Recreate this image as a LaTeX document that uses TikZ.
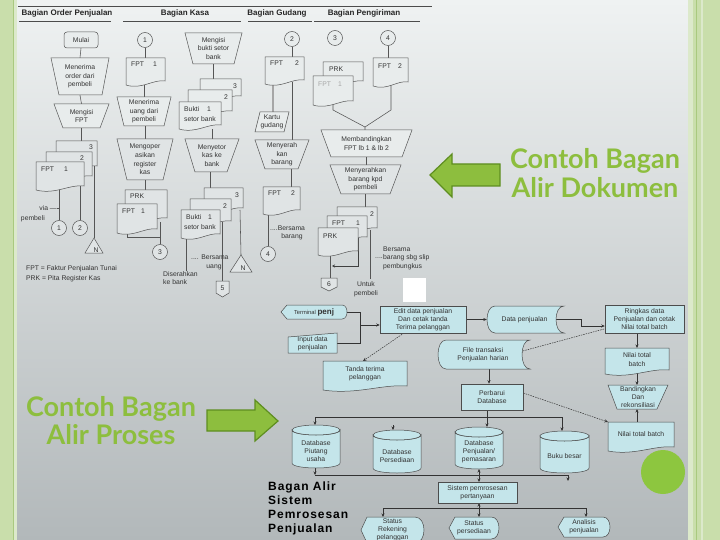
\documentclass[tikz,border=0pt]{standalone}
\usepackage{fontspec}
\setmainfont{Liberation Sans}
\newfontfamily\grnfont{Lato}
\newfontfamily\ttlfont{Liberation Sans}[LetterSpace=8]
\usetikzlibrary{arrows.meta}
\pgfdeclarelayer{bgl}
\pgfdeclarelayer{lines}
\pgfsetlayers{bgl,lines,main}
\definecolor{bgtop}{HTML}{EFF2F2}
\definecolor{bgmid}{HTML}{D8DDDE}
\definecolor{bgbot}{HTML}{B2B8BA}
\definecolor{stripg}{HTML}{C9DEAB}
\definecolor{stripl}{HTML}{DCE9CB}
\definecolor{stripd}{HTML}{A9C97F}
\definecolor{grn}{HTML}{8DBE3E}
\definecolor{grnd}{HTML}{5E8E20}
\definecolor{ball}{HTML}{8DC63F}
\definecolor{cy}{HTML}{C4E5EA}
\definecolor{lnc}{HTML}{555555}
\definecolor{txc}{HTML}{333333}
\definecolor{pA}{HTML}{E8ECEC}
\definecolor{pB}{HTML}{E0E4E5}
\newcommand\dfs{\fontsize{6.8}{8.6}\selectfont}
\newcommand\dfsl{\fontsize{6.8}{8.2}\selectfont}
\newcommand\Area[7][]{\node[area,#1,minimum width={(#5-#3)*1pt},minimum height={(#6-#4)*1pt}] (#2) at ({(#3+#5)/2},{(#4+#6)/2}) {#7};}
\newcommand\TrapP[7][]{\filldraw[#1] (#2,#4) -- (#3,#4) -- (#6,#7) -- (#5,#7) -- cycle;}
\newcommand\DocP[5][]{\filldraw[#1] (#2,#3) -- (#4,#3) -- (#4,{#5-4}) .. controls ({#2+0.7*(#4-#2)},{#5-6}) and ({#2+0.4*(#4-#2)},{#5+5}) .. (#2,#5) -- cycle;}
\newcommand\OffP[5][]{\filldraw[#1] (#2,#3) -- (#4,#3) -- (#4,{#5-4}) -- ({(#2+#4)/2},#5) -- (#2,{#5-4}) -- cycle;}
\newcommand\StoreP[5][]{\filldraw[#1] ({#2+8},#3) -- (#4,#3) .. controls ({#4-10.67},#3) and ({#4-10.67},#5) .. (#4,#5) -- ({#2+8},#5) .. controls ({#2-2.67},#5) and ({#2-2.67},#3) .. cycle;}
\newcommand\DispP[5][]{\filldraw[#1] (#2,{(#3+#5)/2}) -- ({#2+6},#3) -- ({#4-0.35*(#5-#3)},#3) .. controls ({#4+0.1167*(#5-#3)},#3) and ({#4+0.1167*(#5-#3)},#5) .. ({#4-0.35*(#5-#3)},#5) -- ({#2+6},#5) -- cycle;}
\newcommand\CylP[5][]{\filldraw[#1] (#2,{#3+5}) -- (#2,{#5-5}) .. controls (#2,{#5+1.67}) and (#4,{#5+1.67}) .. (#4,{#5-5}) -- (#4,{#3+5}) .. controls (#4,{#3+11.67}) and (#2,{#3+11.67}) .. cycle;
 \filldraw[#1] ({(#2+#4)/2},{#3+5}) ellipse [x radius={(#4-#2)/2*1pt}, y radius=5pt];}
\begin{document}
\begin{tikzpicture}[x=1pt,y=-1pt,
 area/.style={inner sep=0pt, align=center, font=\dfs, text=txc},
 lab/.style={inner sep=0pt, align=center, font=\dfs, text=txc},
 tl/.style={draw=lnc, line width=0.5pt, fill=pA},
 tlb/.style={draw=lnc, line width=0.5pt, fill=pB},
 cn/.style={draw=lnc, line width=0.55pt},
 cng/.style={draw=black!35, line width=1.3pt},
 circ/.style={circle, draw=lnc, line width=0.5pt, fill=pA, minimum size=15pt, inner sep=0pt, font=\dfs, text=txc},
 htxt/.style={inner sep=0pt, font=\fontsize{8}{9}\selectfont\bfseries, text=black!85},
 hl/.style={draw=black!70, line width=0.9pt},
 ps/.style={draw=black!70, line width=0.5pt, fill=cy},
 pbox/.style={rectangle, draw=black!70, line width=0.5pt, fill=cy, inner sep=0pt, align=center, font=\dfsl, text=txc},
 ptx/.style={inner sep=0pt, align=center, font=\dfsl, text=txc},
 pl/.style={draw=black!80, line width=0.5pt},
 pa/.style={pl, -{Stealth[length=3.5pt,width=3pt]}},
 pab/.style={pl, {Stealth[length=3.5pt,width=3pt]}-{Stealth[length=3.5pt,width=3pt]}},
 pd/.style={pa, dash pattern=on 1.5pt off 1pt},
 gtxt/.style={inner sep=0pt, font=\grnfont\bfseries\fontsize{27}{29}\selectfont, text=grn},
 ttl/.style={inner sep=0pt, font=\ttlfont\bfseries\fontsize{12}{13}\selectfont, text=black}
 ]
\useasboundingbox (0,0) rectangle (720,540);
% ================= background
\begin{pgfonlayer}{bgl}
\shade[top color=bgtop, middle color=bgmid, bottom color=bgbot] (16,0) rectangle (688,540);
\fill[stripg] (0,0) rectangle (14,540);
\fill[stripl] (14,0) rectangle (17,540);
\draw[stripd, line width=1pt] (13.5,0) -- (13.5,540);
\fill[stripl] (688,0) rectangle (693,540);
\fill[stripg] (693,0) rectangle (720,540);
\draw[stripd, line width=1pt] (696,0) -- (696,540);
\draw[stripl, line width=1.5pt] (702,0) -- (702,540);
\end{pgfonlayer}
% ================= header
\draw[hl] (18,6) -- (432,6);
\node[htxt] (hOrd) at (67,13.5) {Bagian Order Penjualan};
\node[htxt] (hKas) at (185,13.5) {Bagian Kasa};
\node[htxt] (hGud) at (277,13.5) {Bagian Gudang};
\node[htxt] (hKir) at (364,13.5) {Bagian Pengiriman};
\draw[hl] (19,21) -- (111,21);
\draw[hl] (123,21) -- (241,21);
\draw[hl] (248,21) -- (312,21);
\draw[hl] (314,21) -- (420,21);
% ================= Order column
\node[rectangle, rounded corners=3pt, draw=lnc, line width=0.5pt, fill=pA, minimum width=34pt, minimum height=16pt, inner sep=0pt, font=\dfs, text=txc] (mulai) at (81,40) {Mulai};
\TrapP[tl]{51}{109}{58}{59}{102}{95}
\Area{t1}{51}{58}{109}{95}{Menerima\\order dari\\pembeli}
\TrapP[tl]{54}{109}{104}{63}{100}{128}
\Area{t2}{54}{104}{109}{128}{Mengisi\\FPT}
\DocP[tlb]{56}{141}{97}{170}
\Area{od3}{56}{141}{97}{170}{}
\node[lab] (od3n) at (91,147) {3};
\DocP[tlb]{46}{152}{92}{180}
\Area{od2}{46}{152}{92}{180}{}
\node[lab] (od2n) at (82,158) {2};
\DocP[tlb]{36}{162}{84}{190}
\Area{od1}{36}{162}{84}{190}{}
\node[lab,anchor=west] (od1a) at (41,169) {FPT};
\node[lab] (od1b) at (66,169) {1};
\node[circ,fill=pB] (oc1) at (59,228) {1};
\node[circ,fill=pB] (oc2) at (80,228) {2};
\filldraw[tlb] (94,238) -- (103,253) -- (85,253) -- cycle;
\coordinate (otri) at (94,238);
\node[lab] (otriN) at (96,250) {N};
\node[lab,anchor=east] (ovia) at (57,208) {via ---};
\node[lab,anchor=east] (opemb) at (45,219) {pembeli};
\node[lab,anchor=west] (leg1) at (26,269) {FPT = Faktur Penjualan Tunai};
\node[lab,anchor=west] (leg2) at (26,279) {PRK = Pita Register Kas};
% ================= Kasa left
\node[circ] (kc1) at (145,40) {1};
\DocP[tl]{126}{58}{165}{85}
\Area{kd1}{126}{58}{165}{85}{}
\node[lab,anchor=west] (kd1a) at (131,64) {FPT};
\node[lab] (kd1b) at (155,64) {1};
\TrapP[tl]{117}{171}{97}{124}{164}{126}
\Area{t3}{117}{97}{171}{126}{Menerima\\uang dari\\pembeli}
\TrapP[tlb]{117}{173}{139}{127}{163}{180}
\Area{t4}{117}{139}{173}{180}{Mengoper\\asikan\\register\\kas}
\DocP[tlb]{125}{190}{167}{222}
\Area{kprk}{125}{190}{167}{222}{}
\node[lab,anchor=west] (kprka) at (130,196) {PRK};
\DocP[tlb]{117}{204}{157}{233}
\Area{kfpt}{117}{204}{157}{233}{}
\node[lab,anchor=west] (kfpta) at (122,211) {FPT};
\node[lab] (kfptb) at (143,211) {1};
\node[circ,fill=pB] (kc3) at (160,252) {3};
% ================= Kasa right
\TrapP[tl]{185}{242}{33}{193}{234}{64}
\Area{t5}{185}{33}{242}{64}{Mengisi\\bukti setor\\bank}
\DocP[tl]{200}{79}{241}{100}
\Area{ks13}{200}{79}{241}{100}{}
\node[lab] (ks13n) at (235,86) {3};
\DocP[tl]{188}{90}{232}{115}
\Area{ks12}{188}{90}{232}{115}{}
\node[lab] (ks12n) at (226,97) {2};
\DocP[tl]{179}{102}{221}{129}
\Area{ks11}{179}{102}{221}{129}{}
\node[lab,anchor=west] (ks11a) at (184,109) {Bukti};
\node[lab] (ks11b) at (209,109) {1};
\node[lab] (ks11c) at (200,119) {setor bank};
\TrapP[tlb]{185}{239}{139}{195}{227}{172}
\Area{t6}{185}{139}{239}{172}{Menyetor\\kas ke\\bank}
\DocP[tlb]{204}{188}{243}{212}
\Area{ks23}{204}{188}{243}{212}{}
\node[lab] (ks23n) at (237,195) {3};
\DocP[tlb]{190}{199}{231}{225}
\Area{ks22}{190}{199}{231}{225}{}
\node[lab] (ks22n) at (225,206) {2};
\DocP[tlb]{181}{210}{220}{238}
\Area{ks21}{181}{210}{220}{238}{}
\node[lab,anchor=west] (ks21a) at (186,217) {Bukti};
\node[lab] (ks21b) at (210,217) {1};
\node[lab] (ks21c) at (200,227) {setor bank};
\OffP[tlb]{216}{281}{229}{297}
\node[lab] (off5) at (222.5,288) {5};
\filldraw[tlb] (241,255) -- (252,272) -- (230,272) -- cycle;
\coordinate (ktri) at (241,255);
\node[lab] (ktriN) at (243,268) {N};
\node[lab,anchor=west] (kbers) at (191,257) {.... Bersama};
\node[lab] (kuang) at (214,267) {uang};
\node[lab,anchor=north west,align=left] (kdis) at (163,271) {Diserahkan\\ke bank};
% ================= Gudang
\node[circ] (gc2) at (292,39) {2};
\DocP[tl]{265}{57}{304}{84}
\Area{gd1}{265}{57}{304}{84}{}
\node[lab,anchor=west] (gd1a) at (270,63) {FPT};
\node[lab] (gd1b) at (297,63) {2};
\filldraw[tl] (260,112) -- (289,112) -- (284,132) -- (255,132) -- cycle;
\Area{gkart}{255}{112}{289}{132}{Kartu\\gudang}
\TrapP[tlb]{255}{309}{140}{265}{298}{169}
\Area{t7}{255}{140}{309}{169}{Menyerah\\kan\\barang}
\DocP[tlb]{263}{187}{300}{214}
\Area{gd2}{263}{187}{300}{214}{}
\node[lab,anchor=west] (gd2a) at (268,193) {FPT};
\node[lab] (gd2b) at (293,193) {2};
\node[circ,fill=pB] (gc4) at (268,254) {4};
\node[lab,anchor=west] (gbers) at (270,228) {....Bersama};
\node[lab] (gbar) at (292,237) {barang};
% ================= Pengiriman
\node[circ] (pc3) at (335,38) {3};
\node[circ] (pc4) at (388,38) {4};
\DocP[tl]{323}{62}{363}{85}
\Area{pprk}{323}{62}{363}{85}{}
\node[lab,anchor=west] (pprka) at (329,69) {PRK};
\DocP[tl]{313}{76}{353}{105}
\Area{pfp1}{313}{76}{353}{105}{}
\node[lab,anchor=west,text=black!35] (pfp1a) at (318,84) {FPT};
\node[lab,text=black!35] (pfp1b) at (340,84) {1};
\DocP[tl]{373}{58}{408}{86}
\Area{pfp2}{373}{58}{408}{86}{}
\node[lab,anchor=west] (pfp2a) at (378,66) {FPT};
\node[lab] (pfp2b) at (400,66) {2};
\TrapP[tl]{321}{412}{130}{331}{402}{157}
\Area{t8}{321}{130}{412}{157}{Membandingkan\\FPT lb 1 \& lb 2}
\TrapP[tlb]{330}{401}{165}{341}{390}{194}
\Area{t9}{330}{165}{401}{194}{Menyerahkan\\barang kpd\\pembeli}
\DocP[tlb]{337}{207}{377}{232}
\Area{ps2}{337}{207}{377}{232}{}
\node[lab] (ps2n) at (372,214) {2};
\DocP[tlb]{327}{216}{367}{241}
\Area{ps1}{327}{216}{367}{241}{}
\node[lab,anchor=west] (ps1a) at (332,223) {FPT};
\node[lab] (ps1b) at (358,223) {1};
\DocP[tlb]{318}{228}{358}{255}
\Area{ps0}{318}{228}{358}{255}{}
\node[lab,anchor=west] (ps0a) at (323,236) {PRK};
\OffP[tlb]{321}{278}{337}{291}
\node[lab] (off6) at (329,284) {6};
\node[lab] (puntuk) at (366,289) {Untuk\\pembeli};
\node[lab,anchor=west,align=left] (pbers) at (383,258) {Bersama\\barang sbg slip\\pembungkus};
\node[lab,anchor=east] (pdots) at (383,258) {....};
% ================= green labels
\filldraw[fill=grn, draw=grnd, line width=1.2pt] (430,175) -- (452,154) -- (452,164) -- (500,164) -- (500,186) -- (452,186) -- (452,197) -- cycle;
\node[gtxt,anchor=base] (tdok1) at (595,169) {Contoh Bagan};
\node[gtxt,anchor=base] (tdok2) at (595,197) {Alir Dokumen};
\filldraw[fill=grn, draw=grnd, line width=1.2pt] (278,421) -- (255,400) -- (255,410) -- (207,410) -- (207,431) -- (255,431) -- (255,441) -- cycle;
\node[gtxt,anchor=base] (tpro1) at (111,416) {Contoh Bagan};
\node[gtxt,anchor=base] (tpro2) at (111,444) {Alir Proses};
\fill[white] (403,278) rectangle (426,302);
\fill[ball] (663,472) circle [radius=22pt];
% ================= process flowchart
\DispP[ps]{281}{305}{347}{319}
\Area{lterm}{281}{305}{347}{319}{{\fontsize{5.8}{6}\selectfont Terminal }{\fontsize{8}{8}\selectfont\bfseries penj}}
\filldraw[ps] (288,337) -- (337,333) -- (337,353) -- (288,353) -- cycle;
\Area[font=\dfsl]{linp}{288}{335}{337}{353}{Input data\\penjualan}
\node[pbox, minimum width=86pt, minimum height=27pt] (edit) at (423,319.5) {Edit data penjualan\\Dan cetak tanda\\Terima pelanggan};
\StoreP[ps]{487}{306}{564}{333}
\Area[font=\dfsl]{ldata}{487}{306}{562}{333}{Data penjualan}
\node[pbox, minimum width=79pt, minimum height=28pt] (ring) at (644.5,319) {Ringkas data\\Penjualan dan cetak\\Nilai total batch};
\StoreP[ps]{438}{340}{530}{369}
\Area[font=\dfsl]{lfile}{438}{340}{528}{369}{File transaksi\\Penjualan harian};
\DocP[ps]{323}{361}{407}{390}
\Area[font=\dfsl]{ltanda}{323}{361}{407}{386}{Tanda terima\\pelanggan}
\node[pbox, minimum width=62pt, minimum height=26pt] (perb) at (492,397) {Perbarui\\Database};
\DocP[ps]{605}{348}{669}{374}
\Area[font=\dfsl]{lnil1}{605}{348}{669}{371}{Nilai total\\batch}
\TrapP[ps]{608}{668}{385}{617}{657}{409}
\Area[font=\dfsl]{lband}{608}{385}{668}{409}{Bandingkan\\Dan\\rekonsiliasi}
\DocP[ps]{608}{422}{674}{451}
\Area[font=\dfsl]{lnil2}{608}{422}{674}{447}{Nilai total batch}
\CylP[ps]{292}{425}{340}{468}
\Area[font=\dfsl]{dbpiu}{292}{436}{340}{466}{Database\\Piutang\\usaha}
\CylP[ps]{373}{430}{421}{473}
\Area[font=\dfsl]{dbper}{373}{441}{421}{471}{Database\\Persediaan}
\CylP[ps]{455}{427}{503}{469}
\Area[font=\dfsl]{dbpen}{455}{437}{503}{467}{Database\\Penjualan/\\pemasaran}
\CylP[ps]{540}{431}{589}{473}
\Area[font=\dfsl]{dbbuk}{540}{441}{589}{471}{Buku besar}
\node[pbox, minimum width=79pt, minimum height=21pt] (sist) at (477.5,492.5) {Sistem pemrosesan\\pertanyaan};
\DispP[ps]{361}{517}{424}{543}
\Area[font=\dfsl]{srek}{361}{517}{424}{543}{Status\\Rekening\\pelanggan}
\DispP[ps]{449}{517}{499}{539}
\Area[font=\dfsl]{sper}{449}{517}{499}{539}{Status\\persediaan}
\DispP[ps]{558}{517}{610}{537}
\Area[font=\dfsl]{sana}{558}{517}{610}{537}{Analisis\\penjualan}
% title
\node[ttl,anchor=base west] (bt1) at (268,490) {Bagan Alir};
\node[ttl,anchor=base west] (bt2) at (268,504) {Sistem};
\node[ttl,anchor=base west] (bt3) at (268,518) {Pemrosesan};
\node[ttl,anchor=base west] (bt4) at (268,532) {Penjualan};
% ================= connectors
\begin{pgfonlayer}{lines}
\draw[cn] (mulai.south) -- (t1.north);
\draw[cn] (t1.south) -- (t2.north);
\draw[cn] (t2.south) -- (t2.south |- od3.north);
\draw[cn] (59,186) -- (oc1.north);
\draw[cn] (80,178) -- (oc2.north);
\draw[cn] (94,166) -- (otri);
\draw[cn, densely dashed] (ovia.east) -- (59,208);
\draw[cn] (kc1.south) -- (kc1.south |- kd1.north);
\draw[cn] (t3.north) -- (t3.north |- kd1.south);
\draw[cn] (t4.north) -- (t4.north |- t3.south);
\draw[cn] (t4.south) -- (t4.south |- kprk.north);
\draw[cn] (kc3.north) -- (kc3.north |- kprk.south);
\draw[cn] (127,230) -- (127,237) -- (kc3.north |- 0,237);
\draw[cn] (t5.south) -- (t5.south |- ks13.north);
\draw[cn] (t6.north) -- (t6.north |- ks11.south);
\draw[cn] (210,172) -- (210,188);
\draw[cn] (186,236) -- (186,271);
\draw[cn] (222.5,222) -- (222.5,281);
\draw[cn] (240,210) -- (ktri);
\draw[cn] (gc2.south) -- (gc2.south |- gd1.north);
\draw[cng] (273,82) -- (273,112);
\draw[cn] (292,82) -- (292,140);
\draw[cn] (291,169) -- (291,187);
\draw[cn] (268,211) -- (gc4.north);
\draw[cn] (pc4.south) -- (pc4.south |- pfp2.north);
\draw[cn] (333,102) -- (333,110) -- (365,127) -- (365,130);
\draw[cn] (391,83) -- (391,110) -- (365,127);
\draw[cn] (t8.south) -- (t8.south |- t9.north);
\draw[cn] (365,194) -- (365,207);
\draw[cn] (330,252) -- (330,278);
\draw[line width=1pt, draw=black!75, -{Stealth[length=3pt,width=3pt]}] (358,238) -- (358,266) -- (332,266);
\draw[cn] (370,230) -- (370,279);
\draw[pl] (lterm.east) -- (360,312) -- (360,343) -- (linp.east |- 0,343);
\coordinate (j1) at (360,325);
\draw[pa] (j1) -- (j1 -| edit.west);
\draw[pa] (edit.east) -- (ldata.west);
\draw[pa] (553,319) -- (581,319) -- (581,326) -- (ring.west |- 0,326);
\draw[pd] (604,329) -- (519,352);
\draw[pd] (404,333) -- (363,361);
\draw[pa] (489,369) -- (perb.north -| 489,0);
\draw[pd] (perb.east |- 0,393) -- (608,422);
\draw[pa] (637,333) -- (637,348);
\draw[pa] (637,373) -- (637,385);
\draw[pa] (637,422) -- (637,409);
\draw[pa, line width=0.8pt] (487,410) -- (487,427);
\draw[pl] (315,417) -- (562,417);
\draw[pa] (315,417) -- (315,425);
\draw[pa] (562,417) -- (562,431);
\draw[pa] (393,425) -- (393,430);
\draw[pa] (315,468) -- (315,475);
\draw[pl] (315,475) -- (568,475);
\draw[pa] (568,475) -- (568,481);
\draw[pab] (479,469) -- (479,482);
\draw[pab] (479,503) -- (479,517);
\draw[pl] (383,508) -- (586,508);
\draw[pa] (383,508) -- (383,517);
\draw[pa] (586,508) -- (586,517);
\end{pgfonlayer}
\end{tikzpicture}
\end{document}
